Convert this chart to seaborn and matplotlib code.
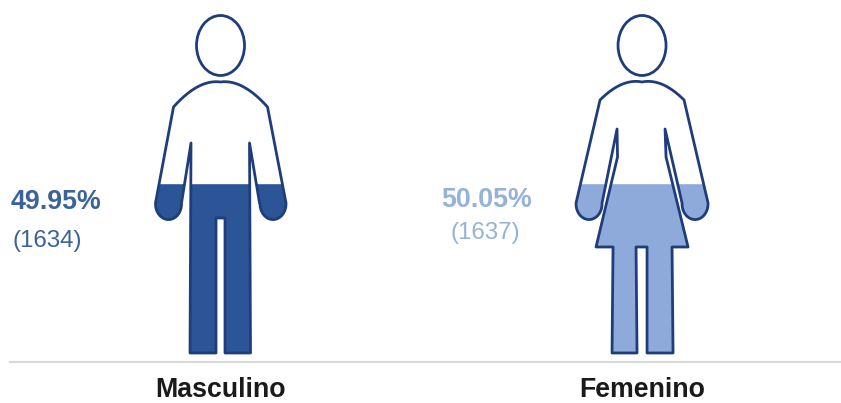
import matplotlib
matplotlib.use("Agg")
import matplotlib.pyplot as plt
from matplotlib.path import Path
from matplotlib.patches import Ellipse, PathPatch
from matplotlib.transforms import Affine2D
import numpy as np
import pandas as pd
import seaborn as sns

categories = ["Masculino", "Femenino"]
percent = [49.95, 50.05]
counts = [1634, 1637]
colors = ["#2b5597", "#8eaadb"]
text_colors = ["#3a6499", "#95b3d7"]
outline = "#1f3d7a"

sns.set_style("white")
plt.rcParams["font.family"] = ["Liberation Sans", "DejaVu Sans"]


def arm_cap(cx, r=13, y=149):
    # lower half of a hand, left to right
    a = np.linspace(np.pi, 2 * np.pi, 20)
    return [(cx + r * np.cos(t), y + r * 1.2 * np.sin(t)) for t in a]


def both_shoulders(w, h, cw, ch):
    # curve from the top of the neck out to each shoulder corner
    t = np.linspace(0, 1, 16)
    xs = (1 - t) ** 2 * -w + 2 * t * (1 - t) * -cw
    ys = (1 - t) ** 2 * h + 2 * t * (1 - t) * ch + t ** 2 * 271
    left = list(zip(xs[::-1], ys[::-1]))
    right = list(zip(-xs[:-1], ys[:-1]))
    return left, right


# silhouettes, px relative to (center, feet), y going up
m_left, m_right = both_shoulders(47, 246, 22, 274)
man = m_left + [(-65, 150)] + arm_cap(-52) + [
    (-39, 150), (-29.5, 210), (-30.5, 0), (-4.5, 0), (-4.5, 135), (4.5, 135),
    (4.5, 0), (30, 0), (29, 210), (39, 150)] + arm_cap(52.5) + [(65.5, 150)] + m_right

w_left, w_right = both_shoulders(42, 253, 20, 275)
woman = w_left + [(-66, 150)] + arm_cap(-53) + [
    (-40, 150), (-25, 224), (-24.5, 196), (-46, 106), (-29, 106), (-30, 0), (-5, 0), (-6, 106), (5, 106),
    (5, 0), (31, 0), (30, 106), (46, 106), (24, 196), (23, 224), (40, 150)] + arm_cap(53) + [(66, 150)] + w_right
shapes = [man, woman]

fig = plt.figure(figsize=(8.41, 4.03), dpi=100)
ax = fig.add_axes([10 / 841, (403 - 362) / 403, 831 / 841, 362 / 403])

df = pd.DataFrame({"sexo": categories, "pct": percent})
sns.barplot(data=df, x="sexo", y="pct", hue="sexo", palette=colors, width=0.4,
            legend=False, ax=ax, saturation=1)

ax.set_xlim(-0.4994, 1.472)
ax.set_ylim(-2.65, 103.82)
ax.set_xlabel("")
ax.set_ylabel("")
ax.set_yticks([])
ax.set_xticks([0, 1], categories, fontsize=19.3, fontweight="bold", color="#1a1a1a")
ax.tick_params(axis="x", length=0, pad=10.5)
for s in ["top", "left", "right"]:
    ax.spines[s].set_visible(False)
ax.spines["bottom"].set_color("#d9d9d9")
ax.spines["bottom"].set_linewidth(1.5)

for i, bar in enumerate(ax.patches[:2]):
    cx, base = ax.transData.transform((i, 0))
    tr = Affine2D().translate(cx, base)
    verts = shapes[i] + [shapes[i][0]]
    codes = [Path.MOVETO] + [Path.LINETO] * (len(verts) - 2) + [Path.CLOSEPOLY]
    sil = PathPatch(Path(verts, codes), transform=tr, facecolor="none",
                    edgecolor=outline, linewidth=2.0, joinstyle="round", zorder=4)
    ax.add_patch(sil)
    bar.set_clip_path(sil)
    ax.add_patch(Ellipse((0, 307.5), 48, 60, transform=tr, facecolor="none",
                         edgecolor=outline, linewidth=2.0, zorder=4))

fig.text(11 / 841, 1 - 202 / 403, f"{percent[0]:.2f}%", color=text_colors[0], fontsize=19.3,
         fontweight="bold", va="center")
fig.text(13 / 841, 1 - 241 / 403, f"({counts[0]})", color=text_colors[0], fontsize=17.4, va="center")
fig.text(441 / 841, 1 - 200 / 403, f"{percent[1]:.2f}%", color=text_colors[1], fontsize=19.3,
         fontweight="bold", va="center")
fig.text(451 / 841, 1 - 233 / 403, f"({counts[1]})", color=text_colors[1], fontsize=17.4, va="center")

fig.savefig("out.png", dpi=100)
